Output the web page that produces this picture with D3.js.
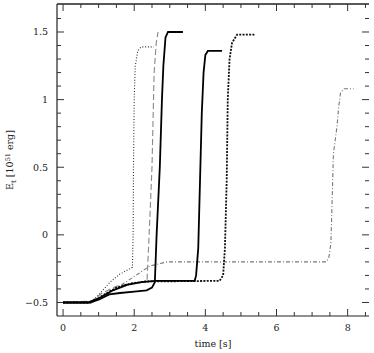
<!DOCTYPE html>
<html><head><meta charset="utf-8">
<script src="https://cdn.jsdelivr.net/npm/d3@7"></script>
<style>body{margin:0;background:#fff}</style>
</head><body>
<svg id="c" width="374" height="353"></svg>
<script>
// Data (time [s], E_t [1e51 erg])
const seriesA_t = [0,0.7,0.85,0.98,1.15,1.32,1.6,1.88,1.95,1.97,1.98,2.0,2.03,2.1,2.2,2.55];
const seriesA_v = [-0.5,-0.5,-0.48,-0.45,-0.40,-0.35,-0.29,-0.25,-0.24,0.0,0.5,1.0,1.25,1.36,1.39,1.39];
const seriesB_t = [0,0.8,1.1,1.5,1.9,2.3,2.36,2.42,2.5,2.56,2.62,2.67];
const seriesB_v = [-0.5,-0.49,-0.43,-0.38,-0.36,-0.35,-0.34,0.0,0.5,1.2,1.42,1.5];
const seriesC_t = [0,0.75,1.0,1.3,1.6,2.0,2.35,2.5,2.58,2.63,2.72,2.78,2.82,2.88,2.95,3.37];
const seriesC_v = [-0.5,-0.5,-0.48,-0.44,-0.43,-0.42,-0.41,-0.39,-0.35,0.0,0.5,1.0,1.25,1.46,1.5,1.5];
const seriesD_t = [0,0.7,1.0,1.4,1.8,2.2,2.6,3.7,3.74,3.8,3.85,3.9,3.95,4.0,4.07,4.47];
const seriesD_v = [-0.5,-0.5,-0.47,-0.41,-0.37,-0.35,-0.34,-0.34,-0.3,-0.1,0.4,0.9,1.2,1.33,1.36,1.36];
const seriesE_t = [0,0.8,1.1,1.5,1.9,2.3,4.4,4.5,4.55,4.6,4.63,4.68,4.75,4.89,5.4];
const seriesE_v = [-0.5,-0.5,-0.45,-0.39,-0.36,-0.345,-0.34,-0.3,-0.1,0.4,1.0,1.3,1.42,1.48,1.48];
const seriesF_t = [0,0.8,1.0,1.32,1.7,2.16,2.44,2.92,7.4,7.47,7.53,7.6,7.7,7.75,7.8,7.9,8.17];
const seriesF_v = [-0.5,-0.5,-0.47,-0.43,-0.36,-0.28,-0.23,-0.2,-0.2,-0.17,-0.06,0.6,0.8,0.95,1.05,1.08,1.08];
const xTickLabels = [0,2,4,6,8];
const yTickLabels = [-0.5,0,0.5,1,1.5];

const series = [
  {t:seriesF_t, v:seriesF_v, color:"#777", w:1.1, dash:"4,2,1,2"},
  {t:seriesB_t, v:seriesB_v, color:"#888", w:1.1, dash:"6,3"},
  {t:seriesA_t, v:seriesA_v, color:"#333", w:1.1, dash:"1,1.8"},
  {t:seriesE_t, v:seriesE_v, color:"#111", w:1.8, dash:"2,1.3"},
  {t:seriesD_t, v:seriesD_v, color:"#000", w:1.8, dash:null},
  {t:seriesC_t, v:seriesC_v, color:"#000", w:1.8, dash:null}
];

const L=57, R=369, T=4, B=316;
const x = d3.scaleLinear().domain([-0.17, 8.6]).range([L, R]);
const y = d3.scaleLinear().domain([-0.6, 1.707]).range([B, T]);
const svg = d3.select("#c");
const font = "DejaVu Serif";

// frame lines
svg.append("line").attr("x1",L).attr("x2",R).attr("y1",T).attr("y2",T).attr("stroke","#222").attr("stroke-width",1.6);
svg.append("line").attr("x1",L).attr("x2",R).attr("y1",B).attr("y2",B).attr("stroke","#222").attr("stroke-width",1.2);
svg.append("line").attr("x1",L).attr("x2",L).attr("y1",T).attr("y2",B).attr("stroke","#222").attr("stroke-width",1.2);

// ticks
const xMinor = d3.range(0, 8.51, 0.5);
const yMinor = d3.range(-0.5, 1.61, 0.1).map(d=>+d.toFixed(2));
const isMajX = d => Math.abs(d/2 - Math.round(d/2))<1e-6;
const isMajY = d => Math.abs(d/0.5 - Math.round(d/0.5))<1e-6;
const tg = svg.append("g").attr("stroke","#333").attr("stroke-width",1);
xMinor.forEach(d=>{
  const len = isMajX(d)?7:4;
  tg.append("line").attr("x1",x(d)).attr("x2",x(d)).attr("y1",B).attr("y2",B-len);
  tg.append("line").attr("x1",x(d)).attr("x2",x(d)).attr("y1",T).attr("y2",T+len);
});
yMinor.forEach(d=>{
  const len = isMajY(d)?7:4;
  tg.append("line").attr("y1",y(d)).attr("y2",y(d)).attr("x1",L).attr("x2",L+len);
  tg.append("line").attr("y1",y(d)).attr("y2",y(d)).attr("x1",R).attr("x2",R-len);
});

// tick labels
svg.append("g").selectAll("text").data(xTickLabels).join("text")
  .attr("x",d=>x(d)).attr("y",331).attr("text-anchor","middle")
  .attr("font-family",font).attr("font-size",9.5).attr("fill","#222").text(d=>d);
svg.append("g").selectAll("text").data(yTickLabels).join("text")
  .attr("x",48).attr("y",d=>y(d)+3.5).attr("text-anchor","end")
  .attr("font-family",font).attr("font-size",9.5).attr("fill","#222")
  .text(d=>d<0?"\u2212"+Math.abs(d):String(d));

// axis titles
svg.append("text").attr("x",(L+R)/2).attr("y",347).attr("text-anchor","middle")
  .attr("font-family",font).attr("font-size",9.5).attr("fill","#222").text("time [s]");
const yl = svg.append("text").attr("transform","translate(13,160) rotate(-90)").attr("text-anchor","middle")
  .attr("font-family",font).attr("font-size",9.5).attr("fill","#222");
yl.append("tspan").text("E");
yl.append("tspan").attr("font-size",7).attr("dy",2.5).text("t");
yl.append("tspan").attr("dy",-2.5).text(" [10");
yl.append("tspan").attr("font-size",6.5).attr("dy",-3.5).text("51");
yl.append("tspan").attr("dy",3.5).text(" erg]");

// curves
const line = d3.line().x(d=>x(d[0])).y(d=>y(d[1]));
series.forEach(s=>{
  const pts = s.t.map((t,i)=>[t, s.v[i]]);
  const p = svg.append("path").attr("d", line(pts)).attr("fill","none")
    .attr("stroke", s.color).attr("stroke-width", s.w);
  if (s.dash) p.attr("stroke-dasharray", s.dash);
});
</script>
</body></html>
